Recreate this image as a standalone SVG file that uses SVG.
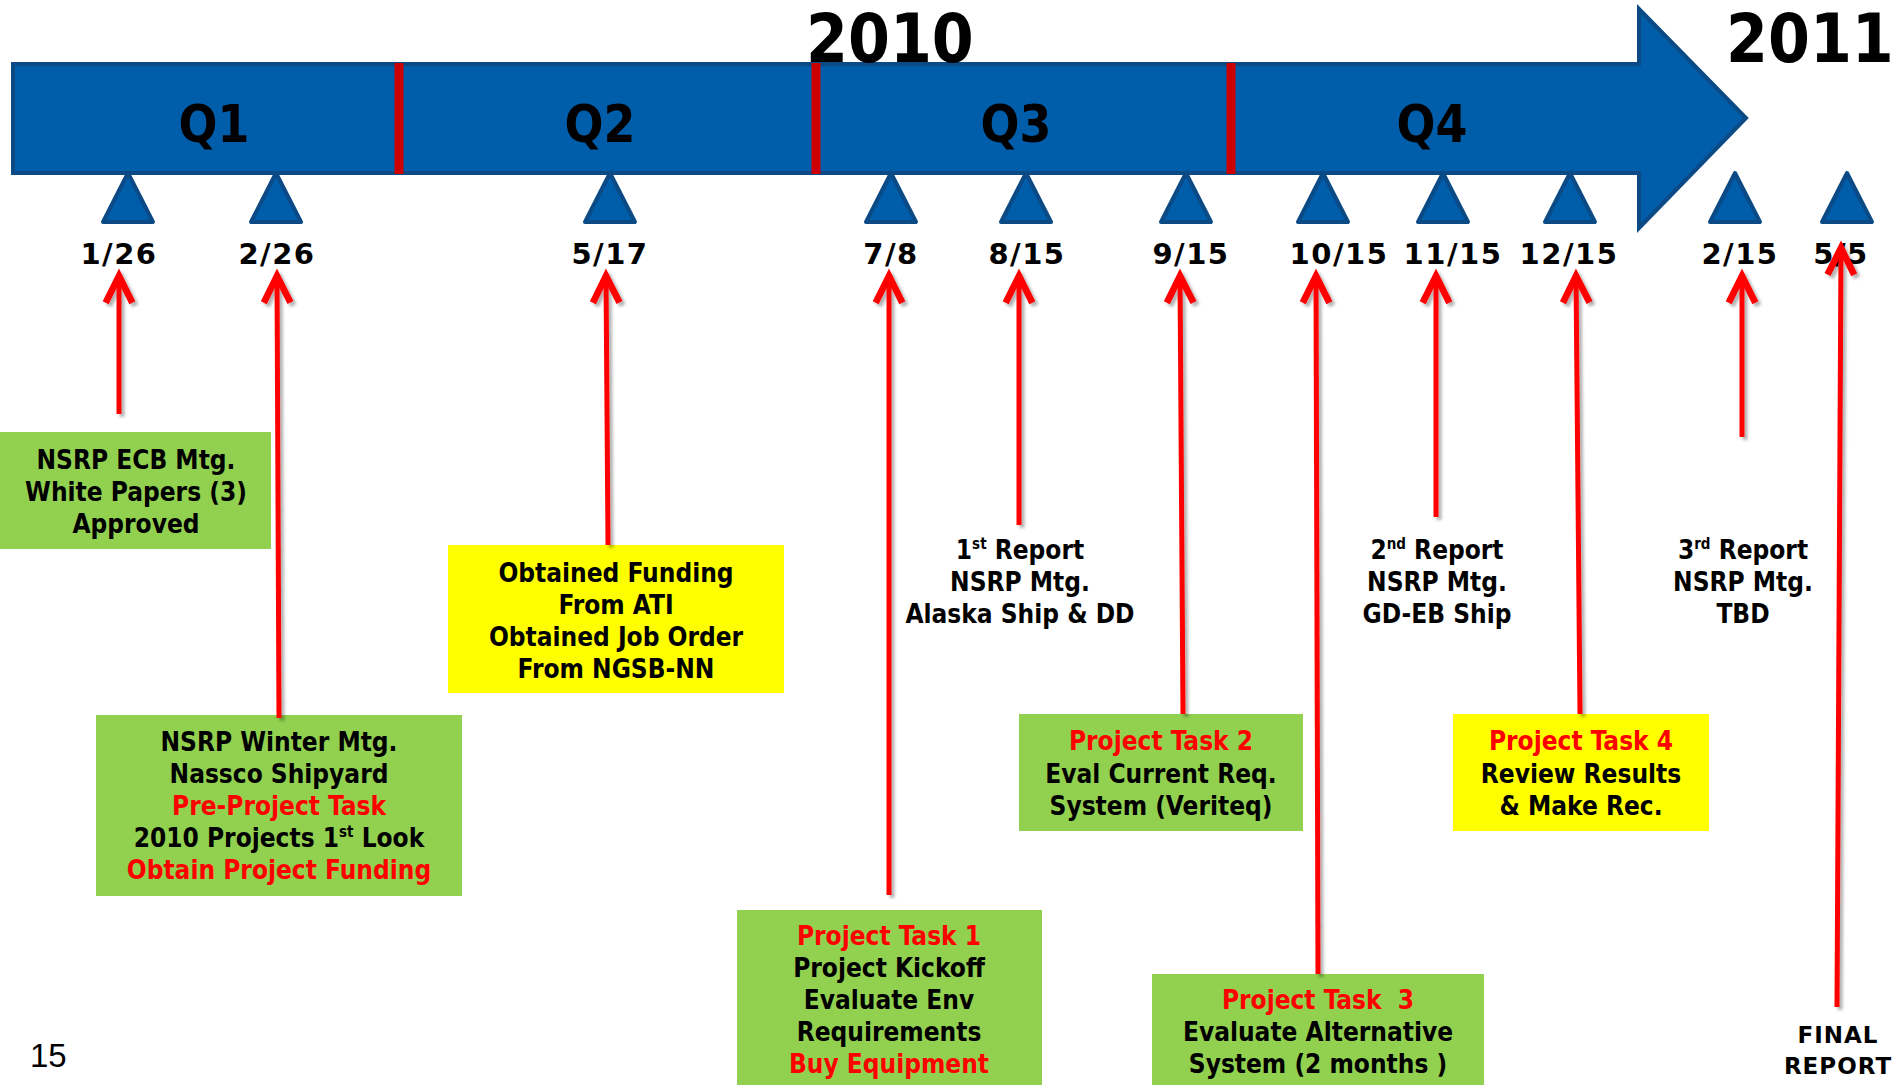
<svg xmlns="http://www.w3.org/2000/svg" width="1897" height="1085" viewBox="0 0 1897 1085">
<style>
  .t { font-family: "DejaVu Sans Condensed", "DejaVu Sans", sans-serif; font-stretch: condensed; font-weight: bold; font-size: 26px; fill: #000; text-anchor: middle; }
  .r { fill: #FF0000; }
  .date { font-family: "DejaVu Sans", sans-serif; font-weight: bold; font-size: 29px; letter-spacing: 1.5px; text-anchor: middle; fill: #000; }
  .q { font-family: "DejaVu Sans Condensed", "DejaVu Sans", sans-serif; font-stretch: condensed; font-weight: bold; font-size: 51px; text-anchor: middle; fill: #000; }
  .yr { font-family: "DejaVu Sans Condensed", "DejaVu Sans", sans-serif; font-stretch: condensed; font-weight: bold; font-size: 67px; fill: #000; }
  .green { fill: #92D050; }
  .yellow { fill: #FFFF00; }
  .tri { fill: #005DAA; stroke: #0B4A85; stroke-width: 4; stroke-linejoin: round; }
  .div { stroke: #CC0000; stroke-width: 9; }
  .conn { stroke: #FF0000; stroke-width: 5; fill: none; marker-end: url(#head); }
  .sup { font-size: 15px; }
</style>
<defs>
  <marker id="head" markerUnits="userSpaceOnUse" orient="auto" refX="0" refY="0" markerWidth="40" markerHeight="40" viewBox="-25 -15 30 30" overflow="visible">
    <path d="M-20,-10 L0,0 L-20,10" fill="none" stroke="#FF0000" stroke-width="5" stroke-linejoin="miter"/>
  </marker>
  <filter id="sh" x="-50%" y="-10%" width="200%" height="120%">
    <feDropShadow dx="3" dy="3" stdDeviation="1.5" flood-color="#000" flood-opacity="0.3"/>
  </filter>
</defs>
<rect width="1897" height="1085" fill="#FFFFFF"/>

<g id="timeline">
  <path d="M13,64 H1639 V9 L1746,118 L1639,228 V173 H13 Z" fill="#005DAA" stroke="#0B4A85" stroke-width="4" stroke-linejoin="miter"/>
  <line class="div" x1="399" y1="63" x2="399" y2="174"/>
  <line class="div" x1="816" y1="63" x2="816" y2="174"/>
  <line class="div" x1="1231" y1="63" x2="1231" y2="174"/>
  <text class="q" x="214" y="142">Q1</text>
  <text class="q" x="600" y="142">Q2</text>
  <text class="q" x="1016" y="142">Q3</text>
  <text class="q" x="1432" y="142">Q4</text>
  <text class="yr" x="806" y="62">2010</text>
  <text class="yr" x="1726" y="62">2011</text>
</g>

<g id="markers">
  <path class="tri" d="M128,173 L153,222 L103,222 Z"/>
  <path class="tri" d="M276,173 L301,222 L251,222 Z"/>
  <path class="tri" d="M610,173 L635,222 L585,222 Z"/>
  <path class="tri" d="M891,173 L916,222 L866,222 Z"/>
  <path class="tri" d="M1026,173 L1051,222 L1001,222 Z"/>
  <path class="tri" d="M1186,173 L1211,222 L1161,222 Z"/>
  <path class="tri" d="M1323,173 L1348,222 L1298,222 Z"/>
  <path class="tri" d="M1443,173 L1468,222 L1418,222 Z"/>
  <path class="tri" d="M1570,173 L1595,222 L1545,222 Z"/>
  <path class="tri" d="M1735,173 L1760,222 L1710,222 Z"/>
  <path class="tri" d="M1847,173 L1872,222 L1822,222 Z"/>
</g>

<g id="dates">
  <text class="date" x="119" y="264">1/26</text>
  <text class="date" x="277" y="264">2/26</text>
  <text class="date" x="610" y="264">5/17</text>
  <text class="date" x="891" y="264">7/8</text>
  <text class="date" x="1027" y="264">8/15</text>
  <text class="date" x="1191" y="264">9/15</text>
  <text class="date" x="1339" y="264">10/15</text>
  <text class="date" x="1453" y="264">11/15</text>
  <text class="date" x="1569" y="264">12/15</text>
  <text class="date" x="1740" y="264">2/15</text>
  <text class="date" x="1841" y="264">5/5</text>
</g>

<g id="node-ecb">
  <rect class="green" x="0" y="432" width="271" height="117"/>
  <text class="t" x="136" y="469">NSRP ECB Mtg.</text>
  <text class="t" x="136" y="501">White Papers (3)</text>
  <text class="t" x="136" y="533">Approved</text>
</g>

<g id="node-winter">
  <rect class="green" x="96" y="715" width="366" height="181"/>
  <text class="t" x="279" y="751">NSRP Winter Mtg.</text>
  <text class="t" x="279" y="783">Nassco Shipyard</text>
  <text class="t r" x="279" y="815">Pre-Project Task</text>
  <text class="t" x="279" y="847">2010 Projects 1<tspan class="sup" dy="-10">st</tspan><tspan dy="10"> Look</tspan></text>
  <text class="t r" x="279" y="879">Obtain Project Funding</text>
</g>

<g id="node-funding">
  <rect class="yellow" x="448" y="545" width="336" height="148"/>
  <text class="t" x="616" y="582">Obtained Funding</text>
  <text class="t" x="616" y="614">From ATI</text>
  <text class="t" x="616" y="646">Obtained Job Order</text>
  <text class="t" x="616" y="678">From NGSB-NN</text>
</g>

<g id="node-task1">
  <rect class="green" x="737" y="910" width="305" height="175"/>
  <text class="t r" x="889" y="945">Project Task 1</text>
  <text class="t" x="889" y="977">Project Kickoff</text>
  <text class="t" x="889" y="1009">Evaluate Env</text>
  <text class="t" x="889" y="1041">Requirements</text>
  <text class="t r" x="889" y="1073">Buy Equipment</text>
</g>

<g id="node-report1">
  <text class="t" x="1020" y="559">1<tspan class="sup" dy="-10">st</tspan><tspan dy="10"> Report</tspan></text>
  <text class="t" x="1020" y="591">NSRP Mtg.</text>
  <text class="t" x="1020" y="623">Alaska Ship &amp; DD</text>
</g>

<g id="node-task2">
  <rect class="green" x="1019" y="714" width="284" height="117"/>
  <text class="t r" x="1161" y="750">Project Task 2</text>
  <text class="t" x="1161" y="783">Eval Current Req.</text>
  <text class="t" x="1161" y="815">System (Veriteq)</text>
</g>

<g id="node-task3">
  <rect class="green" x="1152" y="974" width="332" height="111"/>
  <text class="t r" x="1318" y="1009" xml:space="preserve">Project Task  3</text>
  <text class="t" x="1318" y="1041">Evaluate Alternative</text>
  <text class="t" x="1318" y="1073">System (2 months )</text>
</g>

<g id="node-report2">
  <text class="t" x="1437" y="559">2<tspan class="sup" dy="-10">nd</tspan><tspan dy="10"> Report</tspan></text>
  <text class="t" x="1437" y="591">NSRP Mtg.</text>
  <text class="t" x="1437" y="623">GD-EB Ship</text>
</g>

<g id="node-task4">
  <rect class="yellow" x="1453" y="714" width="256" height="117"/>
  <text class="t r" x="1581" y="750">Project Task 4</text>
  <text class="t" x="1581" y="783">Review Results</text>
  <text class="t" x="1581" y="815">&amp; Make Rec.</text>
</g>

<g id="node-report3">
  <text class="t" x="1743" y="559">3<tspan class="sup" dy="-10">rd</tspan><tspan dy="10"> Report</tspan></text>
  <text class="t" x="1743" y="591">NSRP Mtg.</text>
  <text class="t" x="1743" y="623">TBD</text>
</g>

<g id="node-final">
  <text class="t" x="1838" y="1043" style="font-family: 'DejaVu Sans', sans-serif; font-stretch: normal; font-size: 23px; letter-spacing: 1px;">FINAL</text>
  <text class="t" x="1838" y="1074" style="font-family: 'DejaVu Sans', sans-serif; font-stretch: normal; font-size: 23px; letter-spacing: 1px;">REPORT</text>
</g>

<g id="connectors" filter="url(#sh)">
  <line class="conn" x1="119" y1="414" x2="119" y2="276"/>
  <line class="conn" x1="279" y1="718" x2="277" y2="276"/>
  <line class="conn" x1="608" y1="545" x2="606" y2="276"/>
  <line class="conn" x1="889" y1="895" x2="889" y2="276"/>
  <line class="conn" x1="1019" y1="525" x2="1019" y2="276"/>
  <line class="conn" x1="1183" y1="714" x2="1180" y2="276"/>
  <line class="conn" x1="1318" y1="974" x2="1316" y2="276"/>
  <line class="conn" x1="1436" y1="517" x2="1436" y2="276"/>
  <line class="conn" x1="1580" y1="714" x2="1576" y2="276"/>
  <line class="conn" x1="1742" y1="437" x2="1742" y2="276"/>
  <line class="conn" x1="1837" y1="1007" x2="1841" y2="248"/>
</g>

<text x="30" y="1067" style="font-family: 'Liberation Sans', Arial, sans-serif; font-size: 33px;" fill="#000">15</text>
</svg>
